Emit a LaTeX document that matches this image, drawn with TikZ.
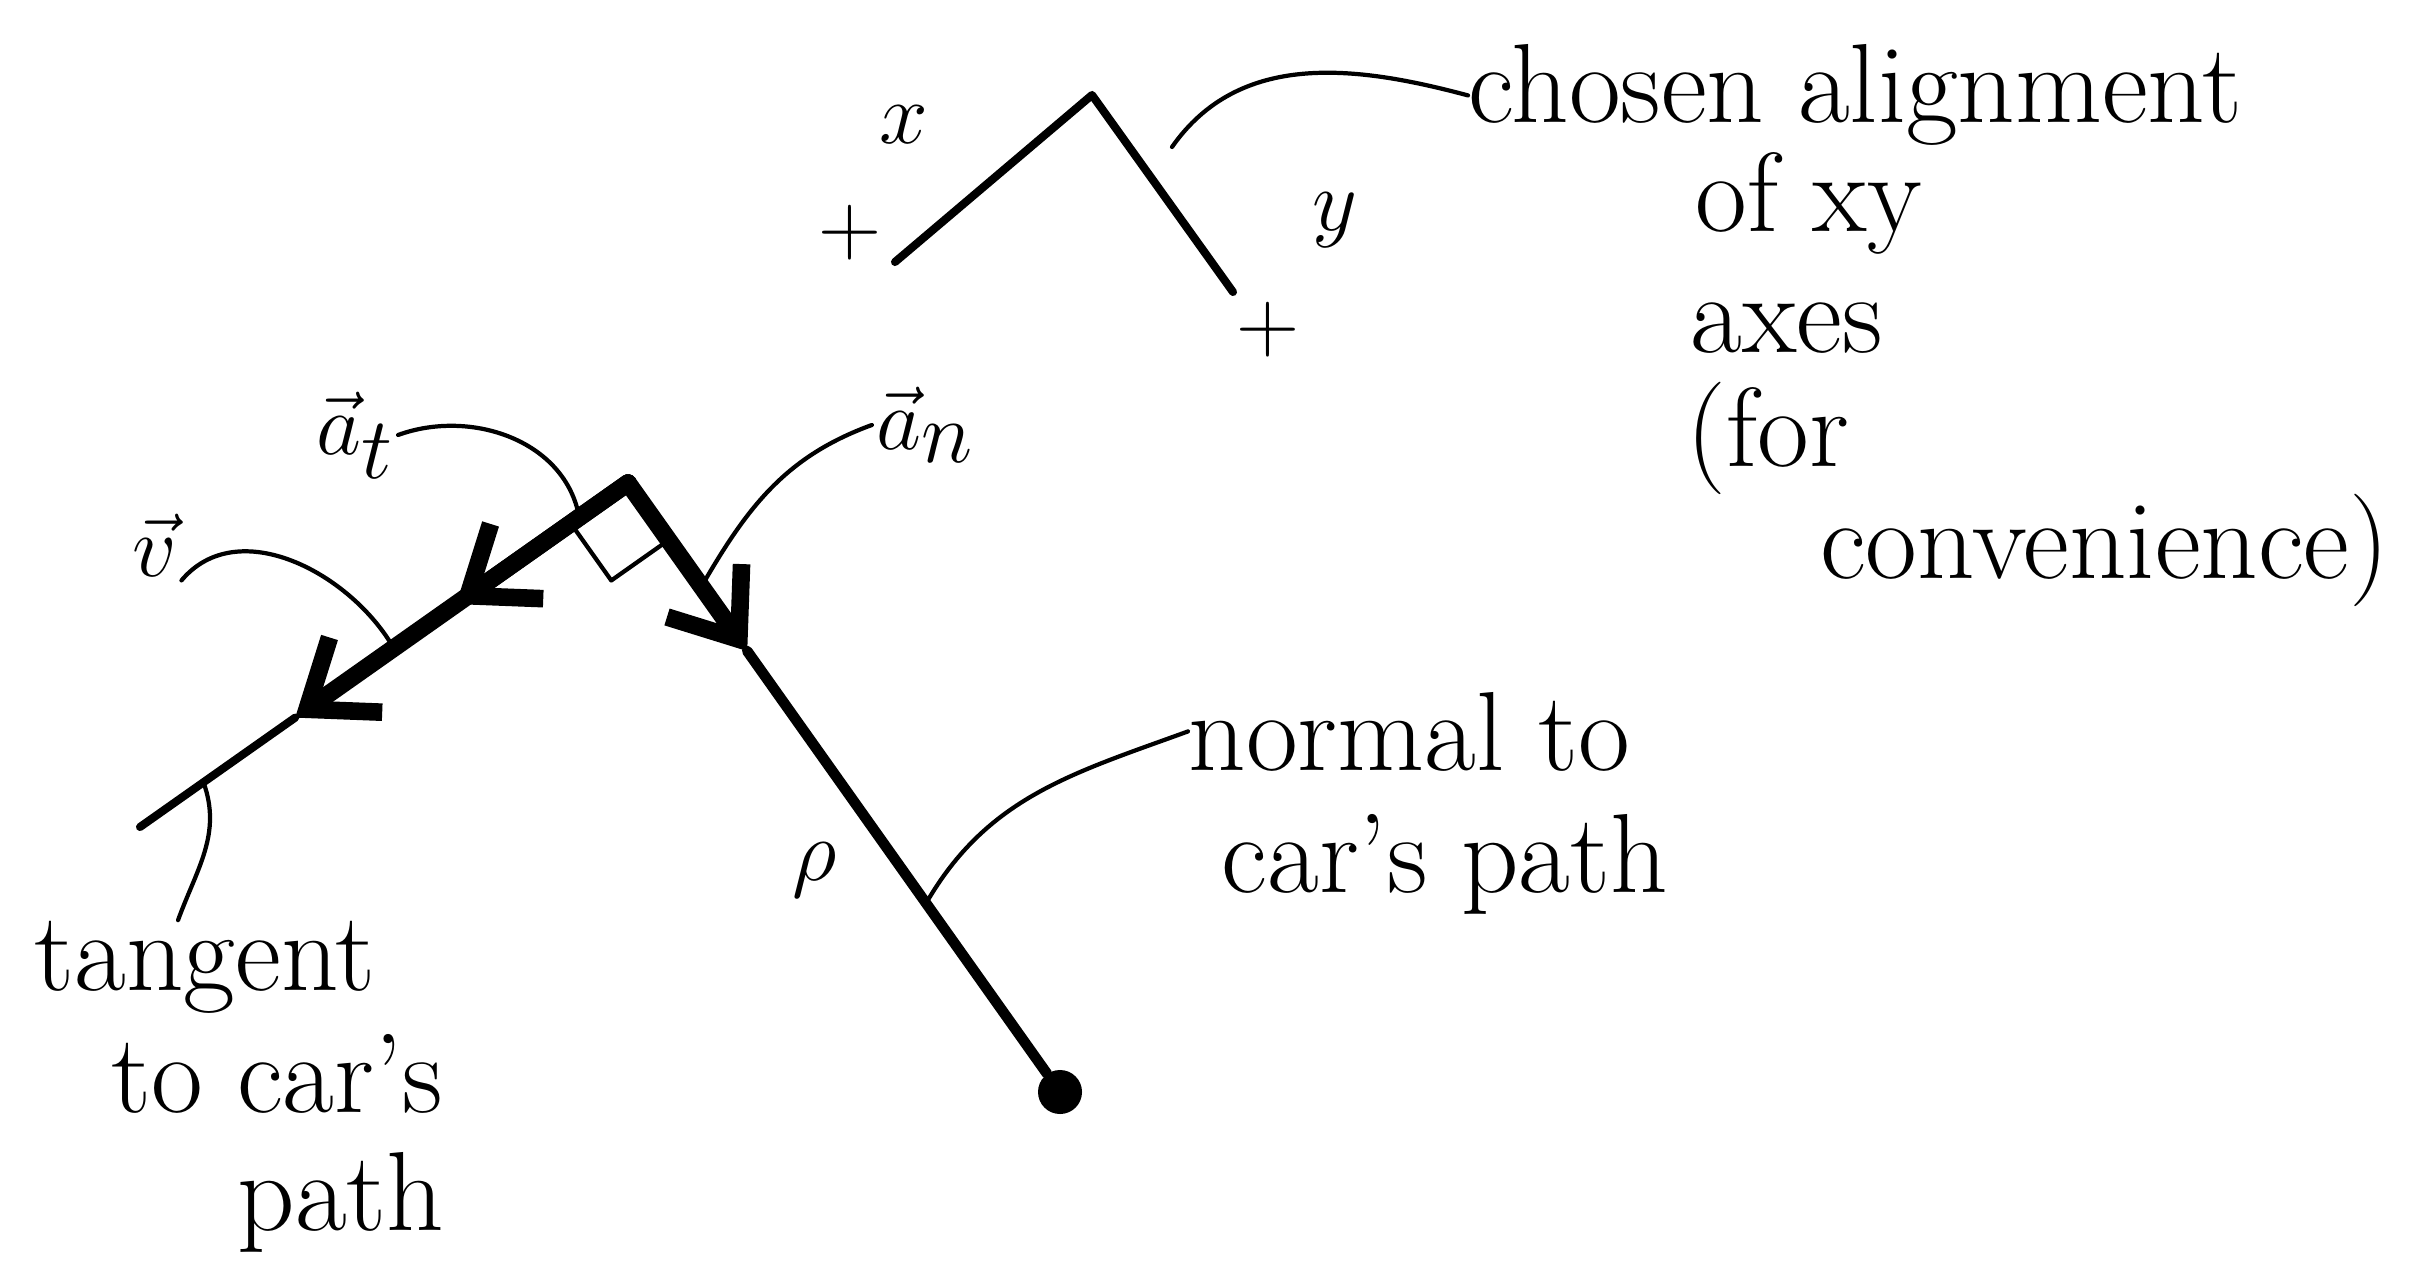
\documentclass[tikz,border=0pt]{standalone}
\usetikzlibrary{arrows.meta,calc}
\begin{document}
\begin{tikzpicture}[x=0.01cm, y=-0.01cm, line cap=round, line join=round,
    >={Straight Barb[length=17pt,width=26pt]},
    every node/.style={font=\fontsize{32}{36}\selectfont, inner sep=1pt},
    txt/.style={anchor=base west, inner sep=0pt},
    mlbl/.style={font=\fontsize{42}{46}\selectfont},
    axisline/.style={line width=2.3pt},
    pathline/.style={line width=2.3pt},
    vecline/.style={line width=5pt},
    normline/.style={line width=3pt},
    leader/.style={line width=1.2pt}]
    \useasboundingbox (0,0) rectangle (2413,1261);

    \coordinate (O) at (1092,95);
    \coordinate (xend) at (895,262);
    \coordinate (yend) at (1233,292);
    \coordinate (axc) at (1172,147);
    \node[mlbl] (xlab) at (904,125) {$x$};
    \node[mlbl] (ylab) at (1335,220) {$y$};
    \node[mlbl] (xplus) at (850,233) {$+$};
    \node[mlbl] (yplus) at (1268,330) {$+$};
    \draw[axisline] (xend) -- (O) -- (yend);

    \coordinate (P) at (628,483);
    \coordinate (T) at (140,827);
    \node[circle,fill,inner sep=0pt,minimum size=0.44cm] (D) at (1060,1092) {};
    \coordinate (At) at ($(P)!0.352!(T)$);
    \coordinate (Vt) at ($(P)!0.682!(T)$);
    \coordinate (An) at ($(P)!0.276!(D)$);
    \coordinate (r1) at ($(P)!0.7cm!(T)$);
    \coordinate (r2) at ($(P)!0.7cm!(D)$);

    \draw[pathline] (Vt) -- (T);
    \draw[normline] (An) -- (D);
    \draw[vecline,->] (P) -- (Vt); \draw[vecline,->] (P) -- (At); \draw[vecline,->] (P) -- (An);
    \draw[leader] (r1) -- ($(r1)+(r2)-(P)$) -- (r2);

    \node[mlbl] (vlab) at (155,545) {$\vec{v}$};
    \node[mlbl] (atlab) at (355,435) {$\vec{a}_t$};
    \node[mlbl] (anlab) at (925,425) {$\vec{a}_n$};
    \node[mlbl] (rho) at (815,870) {$\rho$};

    \node[txt] (chosen) at (1468,123) {chosen alignment};
    \node[txt] (ofxy) at (1695,232) {of xy};
    \node[txt] (axes) at (1690,353) {axes};
    \node[txt] (forl) at (1686,466) {(for};
    \node[anchor=base east, inner sep=0pt] (conv) at (2390,578) {convenience)};
    \node[txt] (normal) at (1188,770) {normal to};
    \node[txt] (carpath) at (1221,892) {car's path};
    \node[txt] (tangent) at (34,990) {tangent};
    \node[txt] (tocar) at (111,1112) {to car's};
    \node[txt] (path) at (237,1230) {path};

    \draw[leader] (vlab.south east) to[out=50,in=120] ($(P)!0.48!(T)$);
    \draw[leader] (atlab.east) to[out=20,in=100] ($(P)!0.1!(T)$);
    \draw[leader] (anlab.west) to[out=200,in=60] ($(P)!0.17!(D)$);
    \draw[leader] (chosen.west) to[out=165,in=55] (axc);
    \draw[leader] (normal.west) to[out=200,in=60] ($(P)!0.69!(D)$);
    \draw[leader] (tangent.120) to[out=70,in=-70] ($(P)!0.87!(T)$);
\end{tikzpicture}
\end{document}
